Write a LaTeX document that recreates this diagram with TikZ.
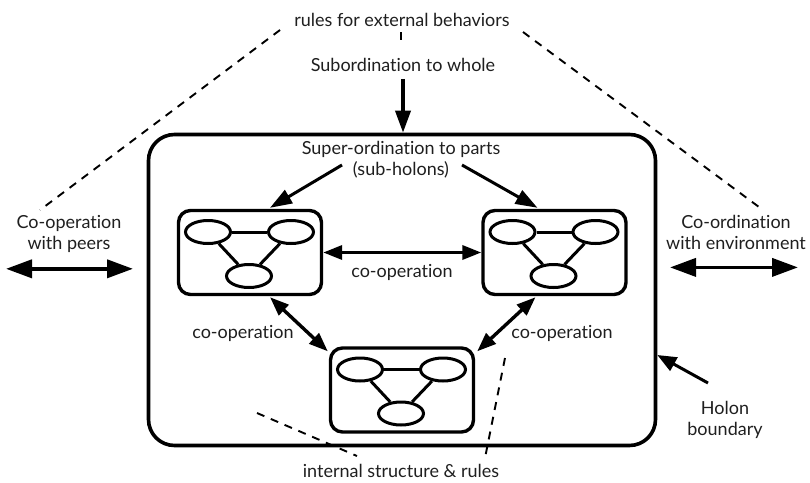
\documentclass[tikz,border=0pt]{standalone}
\usepackage{fontspec}
\setmainfont{Lato}[Ligatures={NoCommon}]
\usetikzlibrary{arrows.meta,shapes.geometric,calc}
\tikzset{
  lbl/.style={font=\fontsize{18}{21}\selectfont, inner sep=0pt, align=center, text=black!88},
  subbox/.style={draw, line width=3.4pt, rounded corners=12pt, minimum width=143pt, minimum height=84pt, inner sep=0pt},
  elli/.style={draw, ellipse, line width=3pt, minimum width=45pt, minimum height=23pt, inner sep=0pt},
  link/.style={line width=3pt},
  dsh/.style={dashed, dash pattern=on 8pt off 7pt, line width=1.9pt},
  arr/.style={line width=3.6pt, -{Triangle[length=22pt,width=15pt]}},
  darr/.style={line width=3.4pt, {Triangle[length=19pt,width=14pt]}-{Triangle[length=19pt,width=14pt]}},
  bigdarr/.style={line width=3.8pt, {Triangle[length=26pt,width=18pt]}-{Triangle[length=26pt,width=18pt]}},
}
\begin{document}
\begin{tikzpicture}[x=1pt,y=-1pt]
\useasboundingbox (0,0) rectangle (810,482);
% outer holon
\node[draw, line width=3.6pt, rounded corners=26pt, minimum width=507pt, minimum height=311pt, inner sep=0pt] (holon) at (402,290) {};
% texts
\node[lbl] (rules) at (402,20) {rules for external behaviors};
\node[lbl] (subw) at (403,65) {Subordination to whole};
\node[lbl] (super) at (401,160) {Super-ordination to parts\\(sub-holons)};
\node[lbl] (peers) at (69,234) {Co-operation\\with peers};
\node[lbl] (env) at (736,232) {Co-ordination\\with environment};
\node[lbl] (coopH) at (402,272) {co-operation};
\node[lbl] (coopL) at (243,333) {co-operation};
\node[lbl] (coopR) at (562,333) {co-operation};
\node[lbl] (hb) at (725,420) {Holon\\boundary};
\node[lbl] (isr) at (401,471) {internal structure \& rules};
% sub-holons
\foreach \n/\cx/\cy in {L/250/252.5, R/554.5/252.5, B/402/390}{
  \node[subbox] (\n) at (\cx,\cy) {};
  \node[elli] (\n a) at ($(\n)+(-42,-20.5)$) {};
  \node[elli] (\n b) at ($(\n)+(41,-20.5)$) {};
  \node[elli] (\n c) at ($(\n)+(-1,23.5)$) {};
  \draw[link] (\n a) -- (\n b);
  \draw[link] (\n a) -- (\n c);
  \draw[link] (\n b) -- (\n c);
}
% arrows
\draw[arr] (subw.south) ++(0,7) -- (subw.south |- holon.north);
\draw[arr, line width=3pt] ($(super.center)+(-59,5)$) -- ($(L.north)+(20,-1)$);
\draw[arr, line width=3pt] ($(super.center)+(61,5)$) -- ($(R.north)+(-17,-1)$);
\draw[darr] (L.east) -- (R.west);
\draw[darr] ($(L.south)+(20,1)$) -- ($(B.north west)+(-1,5)$);
\draw[darr] ($(R.south)+(-19,1)$) -- ($(B.north east)+(2,5)$);
\draw[bigdarr] ($(peers.south)+(-63,16)$) -- ($(peers.south)+(64,16)$);
\draw[bigdarr] ($(env.south)+(-66,18)$) -- ($(env.south)+(62,18)$);
\coordinate (hbs) at (708,383);
\draw[line width=3pt, -{Triangle[length=19pt,width=15pt]}] (hbs) -- (holon.east |- 0,355);
% dashed lines
\coordinate (d1a) at (280,30); \coordinate (d1b) at (40,210);
\coordinate (d2a) at (523,32); \coordinate (d2b) at (763,210);
\coordinate (d3a) at (401,32); \coordinate (d3b) at (401,45);
\coordinate (d4a) at (257,413); \coordinate (d4b) at (357,456);
\coordinate (d5a) at (505,358); \coordinate (d5b) at (485,458);
\draw[dsh] (d1a) -- (d1b);
\draw[dsh] (d2a) -- (d2b);
\draw[dsh] (d3a) -- (d3b);
\draw[dsh] (d4a) -- (d4b);
\draw[dsh] (d5a) -- (d5b);
\end{tikzpicture}
\end{document}
